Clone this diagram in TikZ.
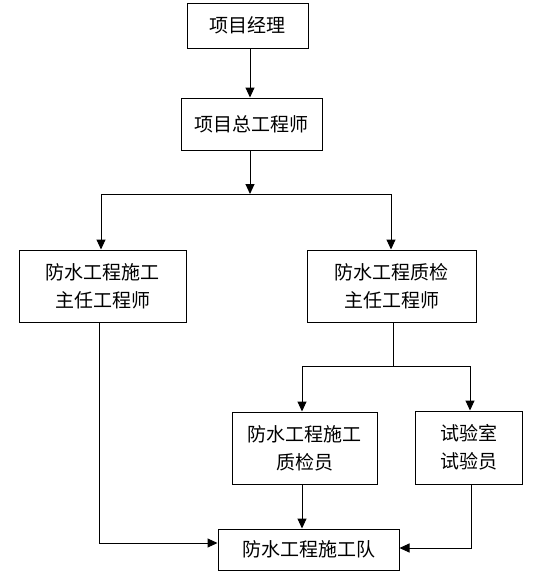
\documentclass[tikz,border=0pt]{standalone}
\usepackage{fontspec}
\newfontfamily\cjk{Noto Sans CJK SC}
\usetikzlibrary{arrows.meta}
\begin{document}
\begin{tikzpicture}[x=1pt,y=-1pt,
  box/.style={draw, line width=1pt, inner sep=0pt, align=center, font=\cjk\fontsize{19}{28}\selectfont},
  arr/.style={line width=1pt, -{Triangle[width=9pt,length=10pt]}},
  ln/.style={line width=1pt}]
\useasboundingbox (0,0) rectangle (546,579);
\node[box, minimum width=121pt, minimum height=45pt] (b1) at (247.5,25.5) {项目经理};
\node[box, minimum width=141pt, minimum height=52pt] (b2) at (251.5,124) {项目总工程师};
\node[box, minimum width=167pt, minimum height=72pt] (b3) at (102.5,286) {防水工程施工\\主任工程师};
\node[box, minimum width=169pt, minimum height=72pt] (b4) at (391.5,286) {防水工程质检\\主任工程师};
\node[box, minimum width=145pt, minimum height=72pt] (b5) at (304.5,448) {防水工程施工\\质检员};
\node[box, minimum width=107pt, minimum height=73pt] (b6) at (468.5,447.5) {试验室\\试验员};
\node[box, minimum width=181pt, minimum height=41pt] (b7) at (308.5,549.5) {防水工程施工队};
\coordinate (cx) at (250,0);
\coordinate (j1) at (250,194);
\coordinate (jl) at (101,194);
\coordinate (jr) at (391,194);
\coordinate (k) at (393,366);
\coordinate (kl) at (302,366);
\coordinate (kr) at (470,366);
\coordinate (m1) at (99,543);
\coordinate (m2) at (471,548);
\draw[arr] (b1.south -| cx) -- (b2.north -| cx);
\draw[arr] (b2.south -| cx) -- (j1);
\draw[ln] (jl) -- (jr);
\draw[arr] (jl) -- (jl |- b3.north);
\draw[arr] (jr) -- (jr |- b4.north);
\draw[ln] (b4.south -| k) -- (k);
\draw[ln] (kl) -- (kr);
\draw[arr] (kl) -- (kl |- b5.north);
\draw[arr] (kr) -- (kr |- b6.north);
\draw[arr] (b3.south -| m1) -- (m1) -- (m1 -| b7.west);
\draw[arr] (b5.south -| kl) -- (kl |- b7.north);
\draw[arr] (b6.south -| m2) -- (m2) -- (m2 -| b7.east);
\end{tikzpicture}
\end{document}
